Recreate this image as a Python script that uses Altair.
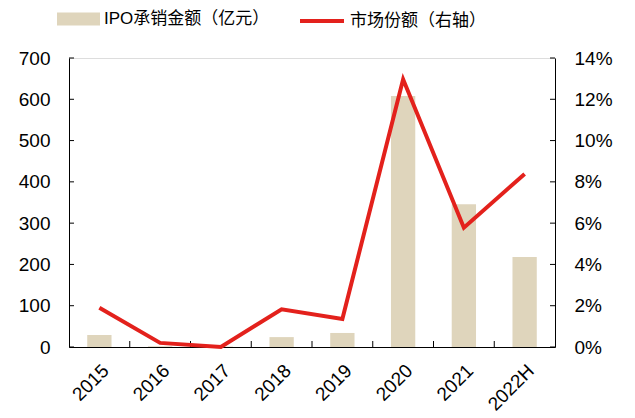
import altair as alt
import pandas as pd

years = ["2015", "2016", "2017", "2018", "2019", "2020", "2021", "2022H"]
amount = [29, 2, 1, 24, 34, 608, 346, 218]
share = [0.019, 0.002, 0.0, 0.0183, 0.0136, 0.1297, 0.0578, 0.0838]
left_ticks = [0, 100, 200, 300, 400, 500, 600, 700]
right_ticks = [0.0, 0.02, 0.04, 0.06, 0.08, 0.10, 0.12, 0.14]
bar_name = "IPO承销金额（亿元）"
line_name = "市场份额（右轴）"

W, H = 486, 289
FONT = "Liberation Sans, Arial, Noto Sans CJK SC, sans-serif"
BEIGE = "#DFD5BC"
RED = "#E3211C"

df = pd.DataFrame({"year": years, "amount": amount, "share": share,
                   "bs": [bar_name] * len(years), "ls": [line_name] * len(years)})
df_lt = pd.DataFrame({"amount": left_ticks})
df_rt = pd.DataFrame({"share": right_ticks})
df_xt = pd.DataFrame({"year": years[1:]})

xscale = alt.Scale(domain=years, paddingInner=0, paddingOuter=0)
lscale = alt.Scale(domain=[0, 700])
rscale = alt.Scale(domain=[0, 0.14])

xaxis = alt.Axis(title=None, labelAngle=-45, ticks=False, domain=True, grid=False,
                 domainColor="#000000", labelFontSize=19, labelFont=FONT,
                 labelColor="#000000", labelPadding=14, labelAlign="right",
                 labelBaseline="top")
laxis = alt.Axis(title=None, orient="left", values=left_ticks, ticks=False, grid=False,
                 domain=True, domainColor="#000000", labelFontSize=19,
                 labelFont=FONT, labelColor="#000000", labelPadding=19)
raxis = alt.Axis(title=None, orient="right", values=right_ticks, format=".0%",
                 ticks=False, grid=False, domain=True, domainColor="#000000",
                 labelFontSize=19, labelFont=FONT, labelColor="#000000",
                 labelPadding=19)

bars = alt.Chart(df).mark_bar(width={"band": 0.4}).encode(
    x=alt.X("year:N", scale=xscale, sort=years, axis=xaxis),
    y=alt.Y("amount:Q", scale=lscale, axis=laxis),
    fill=alt.Fill("bs:N", scale=alt.Scale(domain=[bar_name], range=[BEIGE]),
                  legend=alt.Legend(orient="none", legendX=-12, legendY=-60.5, title=None,
                                    padding=0, symbolType="M-1,-0.3H1V0.3H-1Z",
                                    symbolSize=1849, symbolStrokeWidth=0,
                                    labelFontSize=17, labelFont=FONT, labelLimit=400,
                                    labelColor="#000000", labelOffset=4)),
)

lticks = alt.Chart(df_lt).mark_rule(color="#000000", strokeWidth=1).encode(
    y=alt.Y("amount:Q", scale=lscale, axis=laxis),
    x=alt.value(0), x2=alt.value(5),
)

xticks = alt.Chart(df_xt).mark_rule(color="#000000", strokeWidth=1).encode(
    x=alt.X("year:N", scale=xscale, sort=years, bandPosition=0, axis=xaxis),
    y=alt.value(H), y2=alt.value(H - 6),
)

line = alt.Chart(df).mark_line(strokeWidth=4, strokeJoin="miter").encode(
    x=alt.X("year:N", scale=xscale, sort=years, axis=xaxis),
    y=alt.Y("share:Q", scale=rscale, axis=raxis),
    stroke=alt.Stroke("ls:N", scale=alt.Scale(domain=[line_name], range=[RED]),
                      legend=alt.Legend(orient="none", legendX=229, legendY=-61, title=None,
                                        padding=0, symbolType="stroke", symbolSize=1936,
                                        symbolStrokeWidth=4, labelFontSize=17,
                                        labelFont=FONT, labelColor="#000000",
                                        labelLimit=400, labelOffset=4)),
)

rticks = alt.Chart(df_rt).mark_rule(color="#000000", strokeWidth=1).encode(
    y=alt.Y("share:Q", scale=rscale, axis=raxis),
    x=alt.value(W - 5), x2=alt.value(W),
)

left_layer = alt.layer(bars, lticks, xticks)
right_layer = alt.layer(line, rticks)

chart = alt.layer(left_layer, right_layer).resolve_scale(y="independent").properties(
    width=W, height=H,
    autosize=alt.AutoSizeParams(type="none"),
    padding={"left": 69, "top": 58, "right": 80, "bottom": 71},
).configure_view(stroke=None).configure(background="white")

chart.save("out.html", embed_options={"renderer": "svg", "actions": False})
